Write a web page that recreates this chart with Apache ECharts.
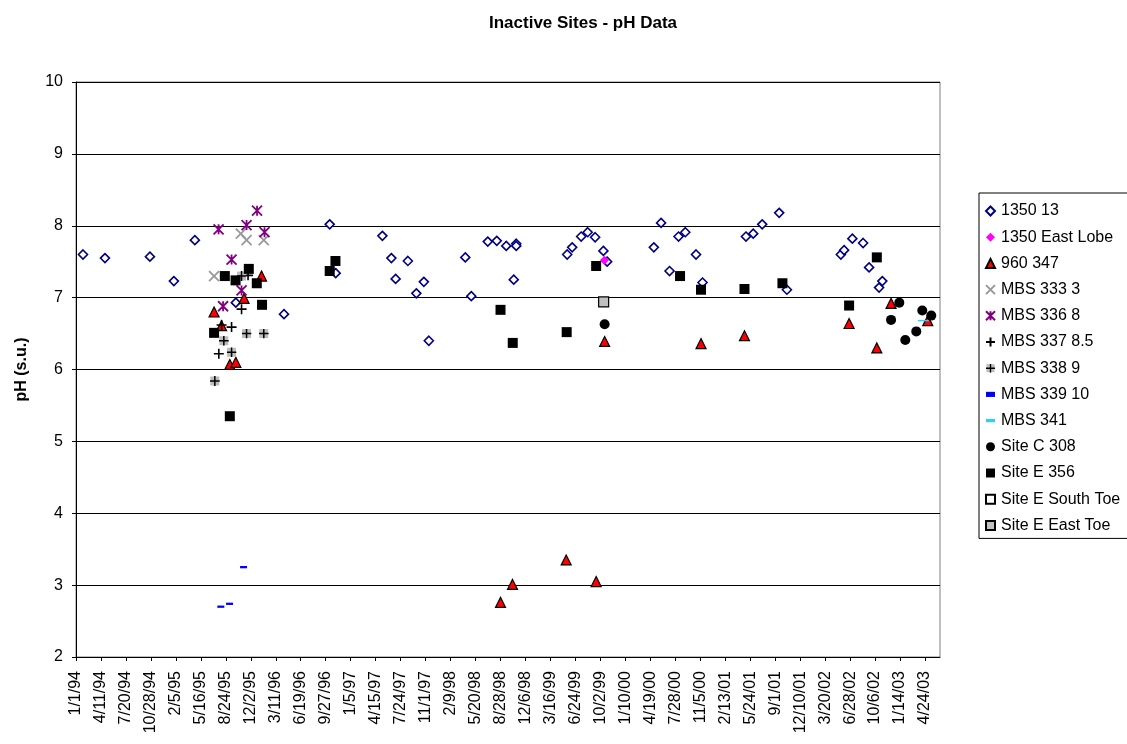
<!DOCTYPE html>
<html>
<head>
<meta charset="utf-8">
<script src="https://cdn.jsdelivr.net/npm/echarts@6/dist/echarts.min.js"></script>
<style>
html,body{margin:0;padding:0;background:#fff;}
#chart{width:1127px;height:744px;}
</style>
</head>
<body>
<div id="chart"></div>
<script>
// x values: days since 1/1/94 ; y values: pH (s.u.)
const s1350_13 = [[28,7.60],[116,7.55],[296,7.57],[392,7.23],[476,7.80],[640,6.93],[833,6.77],[1016,8.02],[1040,7.34],
  [1227,7.86],[1263,7.55],[1280,7.26],[1329,7.51],[1363,7.06],[1393,7.22],[1413,6.40],[1559,7.56],[1583,7.02],
  [1649,7.78],[1685,7.79],[1723,7.72],[1763,7.75],[1763,7.72],[1753,7.25],[1967,7.60],[1987,7.70],[2023,7.85],
  [2049,7.91],[2079,7.84],[2112,7.65],[2127,7.50],[2314,7.70],[2343,8.04],[2377,7.37],[2413,7.85],[2440,7.91],
  [2483,7.60],[2509,7.21],[2683,7.85],[2712,7.89],[2748,8.02],[2816,8.18],[2847,7.11],[3063,7.60],[3076,7.66],
  [3109,7.82],[3152,7.76],[3176,7.42],[3216,7.14],[3229,7.23]];
const s1350_eastLobe = [[2116,7.52]];
const s960_347 = [[553,6.80],[583,6.61],[616,6.07],[640,6.10],[673,6.99],[743,7.30],[1700,2.76],[1748,3.01],
  [1963,3.35],[2083,3.05],[2117,6.39],[2503,6.36],[2677,6.47],[3096,6.64],[3207,6.30],[3264,6.92],[3411,6.68]];
const sMBS333_3 = [[553,7.30],[660,7.89],[683,7.80],[752,7.80]];
const sMBS336_8 = [[571,7.95],[683,8.01],[725,8.21],[755,7.91],[623,7.53],[663,7.10],[589,6.88]];
const sMBS337_85 = [[663,6.84],[623,6.59],[583,6.62],[572,6.22],[689,7.31]];
const sMBS338_9 = [[556,5.84],[592,6.40],[623,6.24],[683,6.50],[752,6.50],[663,7.30]];
const sMBS339_10 = [[671,3.25],[580,2.70],[615,2.74]];
const sMBS341 = [[3393,6.68]];
const sSiteC308 = [[2117,6.63],[3297,6.93],[3264,6.69],[3389,6.82],[3425,6.75],[3365,6.53],[3321,6.41]];
const sSiteE356 = [[596,7.30],[639,7.24],[692,7.40],[724,7.20],[745,6.90],[553,6.51],[616,5.35],[1039,7.51],[1016,7.37],
  [1700,6.83],[1749,6.37],[2083,7.44],[1965,6.52],[2419,7.30],[2503,7.11],[2677,7.12],[2829,7.20],[3207,7.56],[3096,6.89]];
const sSiteESouthToe = [];
const sSiteEEastToe = [[2113,6.94]];

const seriesNames = ['1350 13','1350 East Lobe','960 347','MBS 333 3','MBS 336 8','MBS 337 8.5','MBS 338 9',
  'MBS 339 10','MBS 341','Site C 308','Site E 356','Site E South Toe','Site E East Toe'];

// x tick positions (days since 1/1/94), every 100 days
const xTicks = [];
for (let d = 0; d <= 3400; d += 100) xTicks.push(d);

const START = Date.UTC(1994, 0, 1);
function fmtDate(d) {
  const dt = new Date(START + d * 86400000);
  return (dt.getUTCMonth() + 1) + '/' + dt.getUTCDate() + '/' + String(dt.getUTCFullYear()).slice(2);
}

const FONT = '"Liberation Sans", Arial, sans-serif';
const plusGraySvg = '<svg xmlns="http://www.w3.org/2000/svg" width="20" height="20" viewBox="0 0 20 20">' +
  '<rect x="1" y="1" width="18" height="18" fill="#BDBDBD"/>' +
  '<path d="M10 0V20M0 10H20" stroke="#000" stroke-width="3"/></svg>';
const plusGraySymbol = 'image://data:image/svg+xml;base64,' + btoa(plusGraySvg);

function sc(name, data, symbol, size, itemStyle, keepAspect) {
  itemStyle.opacity = 1;
  return { name: name, type: 'scatter', data: data, symbol: symbol, symbolSize: size,
    symbolKeepAspect: !!keepAspect,
    itemStyle: itemStyle, emphasis: { disabled: true } };
}

const series = [
  sc(seriesNames[0], s1350_13, 'diamond', 9, { color: '#fff', borderColor: '#000080', borderWidth: 1.6 }),
  sc(seriesNames[1], s1350_eastLobe, 'diamond', 9, { color: '#FF00FF', borderColor: '#FF00FF', borderWidth: 0 }),
  sc(seriesNames[2], s960_347, 'triangle', 10, { color: '#FF0000', borderColor: '#000', borderWidth: 1.2 }),
  sc(seriesNames[3], sMBS333_3, 'path://M0,0L10,10M10,0L0,10', 10, { color: 'rgba(0,0,0,0)', borderColor: '#999999', borderWidth: 1.8 }),
  sc(seriesNames[4], sMBS336_8, 'path://M0,0L10,10M10,0L0,10M5,0L5,10', 10, { color: 'rgba(0,0,0,0)', borderColor: '#800080', borderWidth: 1.8 }),
  sc(seriesNames[5], sMBS337_85, 'path://M5,0L5,10M0,5L10,5', 10, { color: 'rgba(0,0,0,0)', borderColor: '#000', borderWidth: 1.6 }),
  sc(seriesNames[6], sMBS338_9, plusGraySymbol, 10, { color: '#BDBDBD' }),
  sc(seriesNames[7], sMBS339_10, 'path://M0,0H7V4H0Z', [7, 4], { color: '#0000FF' }, true),
  sc(seriesNames[8], sMBS341, 'path://M0,0H11V4H0Z', [11, 4], { color: '#33CCFF' }, true),
  sc(seriesNames[9], sSiteC308, 'circle', 10, { color: '#000' }),
  sc(seriesNames[10], sSiteE356, 'rect', 10, { color: '#000' }),
  sc(seriesNames[11], sSiteESouthToe, 'rect', 9, { color: '#fff', borderColor: '#000', borderWidth: 1 }),
  sc(seriesNames[12], sSiteEEastToe, 'rect', 10, { color: '#C0C0C0', borderColor: '#000', borderWidth: 1.2 })
];

const chart = echarts.init(document.getElementById('chart'), null, { renderer: 'canvas' });
chart.setOption({
  animation: false,
  backgroundColor: '#fff',
  textStyle: { fontFamily: FONT },
  title: {
    text: 'Inactive Sites - pH Data',
    left: 484, top: 10,
    textStyle: { fontFamily: FONT, fontWeight: 'bold', fontSize: 17, color: '#000' }
  },
  grid: {
    left: 76, top: 82, right: 187, bottom: 87,
    show: true, borderColor: '#808080', borderWidth: 1, backgroundColor: 'transparent'
  },
  legend: {
    orient: 'vertical',
    left: 979, top: 193,
    padding: [10, 40, 5, 6],
    itemWidth: 9, itemHeight: 9,
    itemGap: 10.2,
    borderColor: '#000', borderWidth: 1,
    data: seriesNames,
    selectedMode: false,
    textStyle: { fontFamily: FONT, fontSize: 16, color: '#000', lineHeight: 16, padding: [0, 0, 0, 1] }
  },
  xAxis: {
    type: 'value',
    min: 0, max: 3460, interval: 100,
    axisLine: { show: true, onZero: false, lineStyle: { color: '#000', width: 1 } },
    axisTick: { show: true, length: 4, lineStyle: { color: '#000' }, customValues: xTicks },
    splitLine: { show: false },
    axisLabel: {
      customValues: xTicks,
      rotate: 90, margin: 14, color: '#000', fontSize: 16, fontFamily: FONT,
      formatter: function (v) { return fmtDate(v); }
    }
  },
  yAxis: {
    type: 'value',
    min: 2, max: 10, interval: 1,
    name: 'pH (s.u.)',
    nameLocation: 'middle', nameRotate: 90, nameGap: 46,
    nameTextStyle: { fontFamily: FONT, fontWeight: 'bold', fontSize: 16, color: '#000' },
    axisLine: { show: true, lineStyle: { color: '#000', width: 1 } },
    axisTick: { show: true, length: 4, lineStyle: { color: '#000' } },
    splitLine: { show: true, lineStyle: { color: '#000', width: 1 } },
    axisLabel: { margin: 13, color: '#000', fontSize: 16, fontFamily: FONT }
  },
  series: series
});
</script>
</body>
</html>
